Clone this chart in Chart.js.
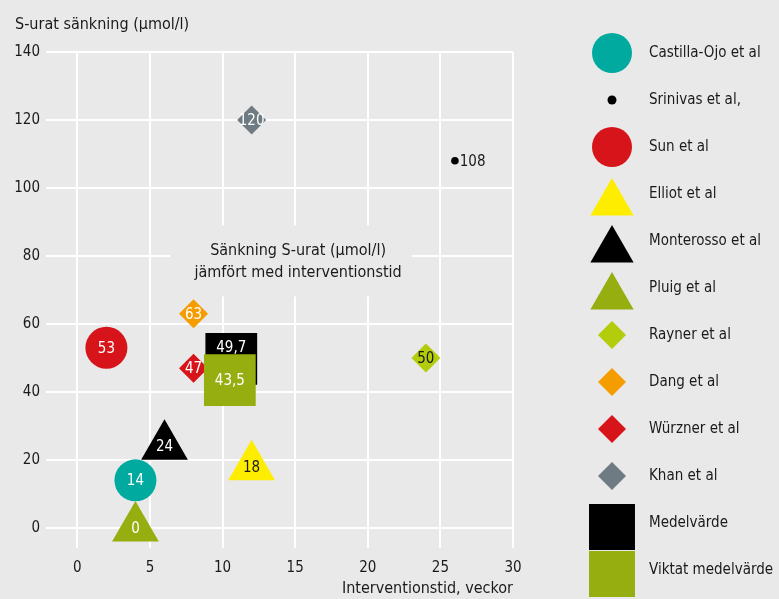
<!DOCTYPE html>
<html>
<head>
<meta charset="utf-8">
<script src="https://cdn.jsdelivr.net/npm/chart.js@4/dist/chart.umd.min.js"></script>
<style>
  html, body { margin: 0; padding: 0; background: #e9e9e9; }
  #wrap { width: 779px; height: 599px; }
</style>
</head>
<body>
<div id="wrap"><canvas id="c" width="779" height="599"></canvas></div>
<script>
// ---- data ----
const studies = ['Castilla-Ojo et al', 'Srinivas et al,', 'Sun et al', 'Elliot et al', 'Monterosso et al', 'Pluig et al', 'Rayner et al', 'Dang et al', 'Würzner et al', 'Khan et al', 'Medelvärde', 'Viktat medelvärde'];
const weeks = [4, 26, 2, 12, 6, 4, 24, 8, 8, 12, 10.6, 10.5];
const reduction = [14, 108, 53, 18, 24, 0, 50, 63, 47, 120, 49.7, 43.5];
const valueLabels = ['14', '108', '53', '18', '24', '0', '50', '63', '47', '120', '49,7', '43,5'];
const xTicks = [0, 5, 10, 15, 20, 25, 30];
const yTicks = [0, 20, 40, 60, 80, 100, 120, 140];
const yTitle = 'S-urat sänkning (µmol/l)';
const xTitle = 'Interventionstid, veckor';
const noteLines = ['Sänkning S-urat (µmol/l)', 'jämfört med interventionstid'];

// ---- styles ----
const FONT = "'DejaVu Sans Condensed', 'Liberation Sans Narrow', 'Roboto', sans-serif";
const FS = 15;
const BG = '#e9e9e9';
const TXT = '#1a1a1a';
const styles = [
  { shape: 'circle',   color: '#00aa9e', r: 21,   lr: 20,  lab: '#ffffff' },
  { shape: 'circle',   color: '#000000', r: 3.8, lr: 4.5, lab: '#1a1a1a', right: true },
  { shape: 'circle',   color: '#d7141a', r: 21,   lr: 20,  lab: '#ffffff' },
  { shape: 'triangle', color: '#ffed00', r: 27,   lr: 25,  lab: '#1a1a1a' },
  { shape: 'triangle', color: '#000000', r: 27,   lr: 25,  lab: '#ffffff' },
  { shape: 'triangle', color: '#96ae0f', r: 27,   lr: 25,  lab: '#ffffff' },
  { shape: 'rectRot',  color: '#b3cc0b', r: 14.5, lr: 14,  lab: '#1a1a1a' },
  { shape: 'rectRot',  color: '#f59c00', r: 14.5, lr: 14,  lab: '#ffffff' },
  { shape: 'rectRot',  color: '#d7141a', r: 14.5, lr: 14,  lab: '#ffffff' },
  { shape: 'rectRot',  color: '#6e7b83', r: 14.5, lr: 14,  lab: '#ffffff' },
  { shape: 'rect',     color: '#000000', r: 36.6, lr: 32.5, lab: '#ffffff', dy: -12, order: 1 },
  { shape: 'rect',     color: '#96ae0f', r: 36.6, lr: 32.5, lab: '#ffffff', order: 0 }
];
const note = { x: 15.2, y1: 81.6, y2: 75, boxX0: 6.4, boxX1: 23.05, boxY0: 89, boxY1: 68.1 };
const legend = { markerX: 612, textX: 649, y0: 53, step: 47 };

Chart.defaults.font.family = FONT;
Chart.defaults.font.size = FS;
Chart.defaults.color = TXT;

const datasets = studies.map((name, i) => ({
  label: name,
  data: [{ x: weeks[i], y: reduction[i] }],
  pointStyle: styles[i].shape,
  pointRadius: styles[i].r,
  pointHoverRadius: styles[i].r,
  backgroundColor: styles[i].color,
  borderColor: styles[i].color,
  borderWidth: 0,
  pointBorderWidth: 0,
  order: styles[i].order !== undefined ? styles[i].order : 2
}));

function drawShape(ctx, shape, r, x, y, color) {
  ctx.save();
  ctx.fillStyle = color;
  ctx.beginPath();
  if (shape === 'circle') {
    ctx.arc(x, y, r, 0, Math.PI * 2);
  } else if (shape === 'triangle') {
    for (let k = 0; k < 3; k++) {
      const a = k * 2 * Math.PI / 3;
      const px = x + Math.sin(a) * r, py = y - Math.cos(a) * r;
      if (k === 0) ctx.moveTo(px, py); else ctx.lineTo(px, py);
    }
    ctx.closePath();
  } else if (shape === 'rectRot') {
    ctx.moveTo(x - r, y); ctx.lineTo(x, y - r); ctx.lineTo(x + r, y); ctx.lineTo(x, y + r); ctx.closePath();
  } else {
    const s = Math.SQRT1_2 * r;
    ctx.rect(x - s, y - s, 2 * s, 2 * s);
  }
  ctx.fill();
  ctx.restore();
}

const notePlugin = {
  id: 'note',
  beforeDatasetsDraw(chart) {
    const { ctx, scales: { x, y } } = chart;
    const x0 = x.getPixelForValue(note.boxX0), x1 = x.getPixelForValue(note.boxX1);
    const y0 = y.getPixelForValue(note.boxY0), y1 = y.getPixelForValue(note.boxY1);
    ctx.save();
    ctx.fillStyle = BG;
    ctx.fillRect(x0, y0, x1 - x0, y1 - y0);
    ctx.fillStyle = TXT;
    ctx.font = '16px ' + FONT;
    ctx.textAlign = 'center';
    ctx.textBaseline = 'middle';
    ctx.fillText(noteLines[0], x.getPixelForValue(note.x), y.getPixelForValue(note.y1));
    ctx.fillText(noteLines[1], x.getPixelForValue(note.x), y.getPixelForValue(note.y2));
    ctx.restore();
  }
};

const labelPlugin = {
  id: 'vlabels',
  afterDatasetsDraw(chart) {
    const { ctx } = chart;
    ctx.save();
    ctx.font = FS + 'px ' + FONT;
    ctx.textBaseline = 'middle';
    const idx = studies.map((_, i) => i).sort((a, b) => (datasets[b].order - datasets[a].order));
    idx.forEach(i => {
      const el = chart.getDatasetMeta(i).data[0];
      const st = styles[i];
      ctx.fillStyle = st.lab;
      if (st.right) {
        ctx.textAlign = 'left';
        ctx.fillText(valueLabels[i], el.x + st.r + 1, el.y + 1);
      } else {
        ctx.textAlign = 'center';
        ctx.fillText(valueLabels[i], el.x, el.y + 1 + (st.dy || 0));
      }
    });
    ctx.restore();
  }
};

const legendPlugin = {
  id: 'customLegend',
  afterDraw(chart) {
    const { ctx } = chart;
    ctx.save();
    ctx.font = FS + 'px ' + FONT;
    ctx.textBaseline = 'middle';
    ctx.textAlign = 'left';
    studies.forEach((name, i) => {
      const yy = legend.y0 + i * legend.step;
      const st = styles[i];
      const my = st.shape === 'triangle' ? yy + 9 : (st.shape === 'rect' ? yy + 4 : yy);
      drawShape(ctx, st.shape, st.lr, legend.markerX, my, st.color);
      ctx.fillStyle = TXT;
      ctx.fillText(name, legend.textX, yy);
    });
    ctx.restore();
  }
};

new Chart(document.getElementById('c'), {
  type: 'scatter',
  data: { datasets },
  plugins: [notePlugin, labelPlugin, legendPlugin],
  options: {
    responsive: false,
    animation: false,
    events: [],
    layout: { padding: { left: 15, right: 266, top: 0, bottom: 0 } },
    plugins: {
      legend: { display: false },
      tooltip: { enabled: false },
      title: {
        display: true, text: yTitle, align: 'start', color: TXT,
        font: { size: 16, weight: 'normal', family: FONT },
        padding: { top: 15, bottom: 17.8 }
      }
    },
    scales: {
      x: {
        type: 'linear', min: -2.16, max: 30,
        afterBuildTicks: s => { s.ticks = xTicks.map(v => ({ value: v })); },
        afterFit: s => { s.height = 51; },
        grid: { color: '#ffffff', lineWidth: 2, drawTicks: false },
        border: { display: false },
        ticks: { padding: 11, color: TXT, font: { size: FS } },
        title: { display: true, text: xTitle, align: 'end', color: TXT, padding: { top: 0, bottom: 1 }, font: { size: 16 } }
      },
      y: {
        type: 'linear', min: -5.9, max: 140,
        afterBuildTicks: s => { s.ticks = yTicks.map(v => ({ value: v })); },
        afterFit: s => { s.width = 31; },
        grid: { color: '#ffffff', lineWidth: 2, drawTicks: false },
        border: { display: false },
        ticks: { padding: 6, color: TXT, font: { size: FS } }
      }
    }
  }
});
</script>
</body>
</html>
